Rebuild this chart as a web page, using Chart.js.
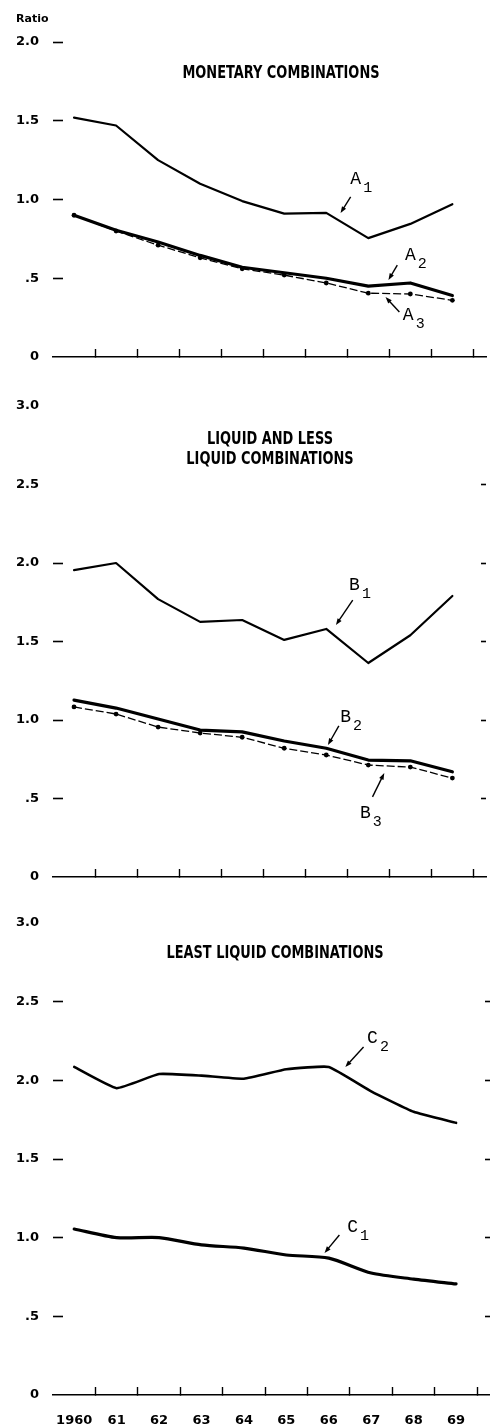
<!DOCTYPE html>
<html>
<head>
<meta charset="utf-8">
<script src="https://cdn.jsdelivr.net/npm/chart.js@4.4.1/dist/chart.umd.min.js"></script>
<style>
  html, body { margin: 0; padding: 0; background: #fff; }
  #page { position: relative; width: 490px; height: 1427px; overflow: hidden; }
  canvas { position: absolute; left: 0; }
  .txt { position: absolute; color: #000; white-space: nowrap; }
  .title { font-family: "Liberation Sans Narrow", "DejaVu Sans Condensed", sans-serif; font-size: 18px; font-weight: bold;
           line-height: 20px; text-align: center; transform: translateX(-50%) scaleX(0.8); }
  .ratio { font-family: "DejaVu Sans", sans-serif; font-weight: bold; font-size: 11px; }
</style>
</head>
<body>
<div id="page">
  <canvas id="c1" width="490" height="372" style="top:0"></canvas>
  <canvas id="c2" width="490" height="520" style="top:372px"></canvas>
  <canvas id="c3" width="490" height="535" style="top:892px"></canvas>

  <div class="txt ratio" style="left:16px;top:12px">Ratio</div>
  <div class="txt title" style="left:281px;top:62px">MONETARY COMBINATIONS</div>
  <div class="txt title" style="left:270px;top:428px">LIQUID AND LESS<br>LIQUID COMBINATIONS</div>
  <div class="txt title" style="left:275px;top:942px">LEAST LIQUID COMBINATIONS</div>
</div>

<script>
// years on the x axis
const years = [1960, 1961, 1962, 1963, 1964, 1965, 1966, 1967, 1968, 1969];

// monetary combinations
const a1 = [1.52, 1.47, 1.25, 1.10, 0.99, 0.91, 0.915, 0.755, 0.845, 0.97];
const a2 = [0.90, 0.805, 0.73, 0.645, 0.57, 0.535, 0.50, 0.45, 0.47, 0.39];
const a3 = [0.90, 0.80, 0.71, 0.63, 0.56, 0.52, 0.47, 0.405, 0.40, 0.36];

// liquid and less liquid combinations
const b1 = [1.955, 2.0, 1.77, 1.625, 1.637, 1.51, 1.58, 1.363, 1.54, 1.79];
const b2 = [1.127, 1.076, 1.006, 0.936, 0.924, 0.866, 0.82, 0.745, 0.74, 0.67];
const b3 = [1.083, 1.038, 0.955, 0.917, 0.89, 0.82, 0.777, 0.713, 0.70, 0.63];

// least liquid combinations
const c1 = [1.055, 1.0, 1.0, 0.954, 0.934, 0.89, 0.87, 0.775, 0.737, 0.706];
const c2 = [2.085, 1.95, 2.04, 2.03, 2.01, 2.07, 2.085, 1.93, 1.80, 1.73];

// y tick values per panel, and which ones get a dash on each side
const yTicksA = [0, 0.5, 1, 1.5, 2];
const yTicksBC = [0, 0.5, 1, 1.5, 2, 2.5, 3];
const leftDashA = [0.5, 1, 1.5, 2];
const leftDashB = [0.5, 1, 1.5, 2];
const leftDashC = [0.5, 1, 1.5, 2, 2.5];
const rightDashA = [];
const rightDashB = [0.5, 1, 1.5, 2, 2.5];
const rightDashC = [0.5, 1, 1.5, 2, 2.5];

// curve labels: [letter, sub, labelYear, labelValue, fromYear, fromValue, toYear, toValue]
const notesA = [
  ['A', '1', 1966.70, 1.13, 1966.58, 1.016, 1966.34, 0.914],
  ['A', '2', 1968.00, 0.648, 1967.69, 0.584, 1967.48, 0.489],
  ['A', '3', 1967.95, 0.267, 1967.74, 0.286, 1967.41, 0.381]
];
const notesB = [
  ['B', '1', 1966.67, 1.86, 1966.63, 1.764, 1966.23, 1.605],
  ['B', '2', 1966.46, 1.019, 1966.30, 0.962, 1966.04, 0.841],
  ['B', '3', 1966.93, 0.408, 1967.10, 0.510, 1967.38, 0.662]
];
const notesC = [
  ['C', '2', 1967.03, 2.27, 1966.82, 2.212, 1966.39, 2.085],
  ['C', '1', 1966.56, 1.068, 1966.25, 1.017, 1965.90, 0.903]
];

const tickFont = { family: 'DejaVu Sans', size: 13, weight: 'bold' };

function fmtY(v) {
  if (v === 0) return '0';
  if (v === 0.5) return '.5';
  return v.toFixed(1);
}

function pts(vals) {
  return years.map((yr, i) => ({ x: yr, y: vals[i] }));
}

function solid(vals, w, tension) {
  return {
    data: pts(vals), borderColor: '#000', borderWidth: w, pointRadius: 0,
    borderJoinStyle: 'round', borderCapStyle: 'round', tension: tension || 0
  };
}

function dotted(vals) {
  return {
    data: pts(vals), borderColor: '#000', borderWidth: 1.3, borderDash: [8, 3],
    pointRadius: 2.4, pointBackgroundColor: '#000', pointBorderWidth: 0, tension: 0
  };
}

const notePlugin = {
  id: 'notes',
  afterDatasetsDraw(chart, args, opts) {
    const ctx = chart.ctx, x = chart.scales.x, y = chart.scales.y;
    ctx.save();
    ctx.fillStyle = '#000';
    ctx.strokeStyle = '#000';
    opts.list.forEach(n => {
      const lx = x.getPixelForValue(n[2]), ly = y.getPixelForValue(n[3]);
      ctx.textAlign = 'center';
      ctx.textBaseline = 'middle';
      ctx.font = '18px "Liberation Mono", monospace';
      ctx.fillText(n[0], lx, ly);
      ctx.font = '15px "Liberation Mono", monospace';
      ctx.fillText(n[1], lx + 12, ly + 9);
      const x0 = x.getPixelForValue(n[4]), y0 = y.getPixelForValue(n[5]);
      const x1 = x.getPixelForValue(n[6]), y1 = y.getPixelForValue(n[7]);
      const ang = Math.atan2(y1 - y0, x1 - x0);
      ctx.lineWidth = 1.4;
      ctx.beginPath();
      ctx.moveTo(x0, y0);
      ctx.lineTo(x1 - 4 * Math.cos(ang), y1 - 4 * Math.sin(ang));
      ctx.stroke();
      ctx.beginPath();
      ctx.moveTo(x1, y1);
      ctx.lineTo(x1 - 7 * Math.cos(ang - 0.35), y1 - 7 * Math.sin(ang - 0.35));
      ctx.lineTo(x1 - 7 * Math.cos(ang + 0.35), y1 - 7 * Math.sin(ang + 0.35));
      ctx.closePath();
      ctx.fill();
    });
    ctx.restore();
  }
};

function makePanel(id, datasets, yMax, yTicks, leftDash, rightDash, notes, padTop, xHeight, showYears) {
  new Chart(document.getElementById(id), {
    type: 'line',
    data: { datasets: datasets },
    plugins: [notePlugin],
    options: {
      responsive: false,
      animation: false,
      layout: { padding: { top: padTop, left: 0, right: 0, bottom: 0 } },
      plugins: { legend: { display: false }, tooltip: { enabled: false }, notes: { list: notes } },
      scales: {
        x: {
          type: 'linear', min: 1959.5, max: 1969.8,
          afterBuildTicks(s) {
            const t = [];
            years.forEach(yr => { t.push({ value: yr }); t.push({ value: yr + 0.5 }); });
            s.ticks = t;
          },
          afterFit(s) { s.height = xHeight; s.paddingLeft = 0; s.paddingRight = 0; },
          border: { display: true, color: '#000', width: 1.6 },
          grid: {
            drawOnChartArea: false, tickLength: -8, tickWidth: 1.4,
            tickColor: c => (c.tick && c.tick.value % 1 !== 0) ? '#000' : 'rgba(0,0,0,0)'
          },
          ticks: {
            display: showYears, autoSkip: false, maxRotation: 0, padding: 26,
            color: '#000', font: tickFont,
            callback: v => Number.isInteger(v) ? (v === 1960 ? '1960' : String(v).slice(2)) : ''
          }
        },
        y: {
          position: 'left', min: 0, max: yMax,
          afterBuildTicks(s) { s.ticks = yTicks.map(v => ({ value: v })); },
          afterFit(s) { s.width = 53; s.paddingTop = 0; s.paddingBottom = 0; },
          border: { display: false },
          grid: {
            drawOnChartArea: false, tickLength: -10, tickWidth: 1.6,
            tickColor: c => (c.tick && leftDash.includes(c.tick.value)) ? '#000' : 'rgba(0,0,0,0)'
          },
          ticks: { padding: 24, color: '#000', font: tickFont, callback: v => fmtY(v) }
        },
        yr: {
          position: 'right', min: 0, max: yMax,
          afterBuildTicks(s) { s.ticks = yTicks.map(v => ({ value: v })); },
          afterFit(s) { s.width = 0; s.paddingTop = 0; s.paddingBottom = 0; },
          border: { display: false },
          grid: {
            drawOnChartArea: false, tickLength: -5, tickWidth: 1.6,
            tickColor: c => (c.tick && rightDash.includes(c.tick.value)) ? '#000' : 'rgba(0,0,0,0)'
          },
          ticks: { display: false }
        }
      }
    }
  });
}

makePanel('c1', [solid(a1, 2.2), solid(a2, 3.2), dotted(a3)], 2, yTicksA, leftDashA, rightDashA, notesA, 42, 15, false);
makePanel('c2', [solid(b1, 2.2), solid(b2, 3.2), dotted(b3)], 3, yTicksBC, leftDashB, rightDashB, notesB, 34, 15, false);
makePanel('c3', [solid(c2, 2.6, 0.12), solid(c1, 3.2, 0.25)], 3, yTicksBC, leftDashC, rightDashC, notesC, 31, 32, true);
</script>
</body>
</html>
